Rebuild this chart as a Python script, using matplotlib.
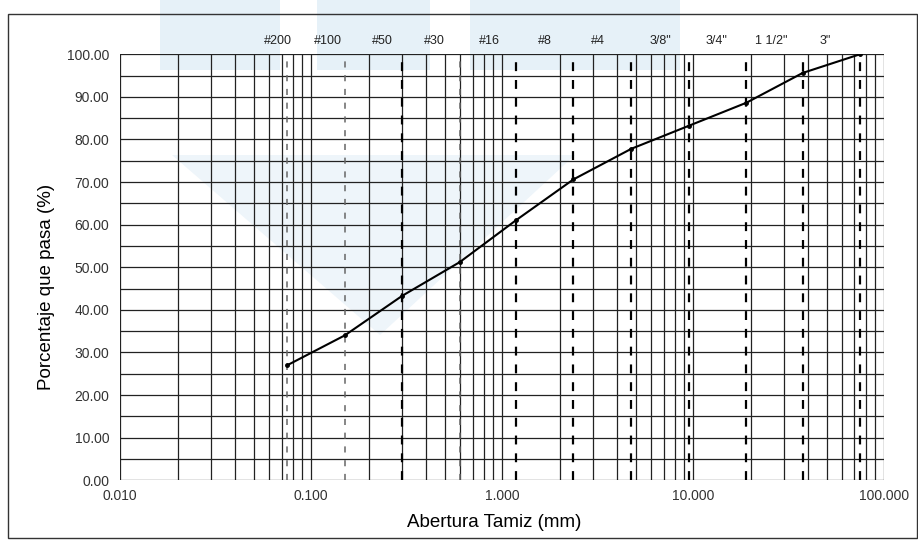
import matplotlib
matplotlib.use("Agg")
import matplotlib.pyplot as plt
from matplotlib.patches import Rectangle, Polygon
import numpy as np

plt.rcParams['font.family'] = ['Liberation Sans', 'DejaVu Sans']

# Data
sieve_names = ['#200', '#100', '#50', '#30', '#16', '#8', '#4', '3/8"', '3/4"', '1 1/2"', '3"']
sieve_mm = [0.075, 0.15, 0.3, 0.6, 1.18, 2.36, 4.75, 9.5, 19.0, 37.5, 75.0]
pct_pass = [27.0, 34.0, 43.3, 51.2, 61.0, 70.6, 77.8, 83.2, 88.6, 95.6, 100.0]
x_ticks = [0.01, 0.1, 1, 10, 100]
x_ticklabels = ['0.010', '0.100', '1.000', '10.000', '100.000']
y_ticks = [0, 10, 20, 30, 40, 50, 60, 70, 80, 90, 100]
y_ticklabels = ['%.2f' % v for v in y_ticks]
label_x_frac = [0.206, 0.272, 0.343, 0.411, 0.484, 0.556, 0.626, 0.707, 0.780, 0.852, 0.923]
light_sieves = [0.075, 0.15, 0.6]

W, H = 918, 542
fig = plt.figure(figsize=(W / 100, H / 100), dpi=100)
fig.patch.set_facecolor('white')

# faint watermark (figure pixel coords converted to fraction)
def px(x, y):
    return (x / W, 1 - y / H)
for x0, x1 in [(160, 280), (317, 430), (470, 680)]:
    fig.add_artist(Rectangle(px(x0, 70), (x1 - x0) / W, 70 / H,
                             transform=fig.transFigure, facecolor='#e6f1f8',
                             edgecolor='none', zorder=0))
fig.add_artist(Polygon([px(172, 155), px(575, 155), px(380, 335)], closed=True,
                       transform=fig.transFigure, facecolor='#eef5fa', edgecolor='none',
                       zorder=0))

fig.add_artist(Rectangle((0.009, 0.008), 0.99, 0.966, transform=fig.transFigure,
                         fill=False, edgecolor='#333333', linewidth=1.0))

ax = fig.add_axes([0.131, 0.114, 0.832, 0.786])
ax.set_facecolor('none')
ax.set_xscale('log')
ax.set_xlim(0.01, 100)
ax.set_ylim(0, 100)

# grid: vertical lines at every 1..9 in each decade
for dec in [0.01, 0.1, 1, 10]:
    for k in range(1, 10):
        ax.axvline(dec * k, color='#222222', linewidth=0.9, zorder=1)
ax.axvline(100, color='#222222', linewidth=0.9, zorder=1)
for yv in range(0, 101, 5):
    ax.axhline(yv, color='#222222', linewidth=0.9, zorder=1)

# sieve dashed lines
for s in sieve_mm:
    if s in light_sieves:
        ax.axvline(s, color='#666666', linewidth=1.1, linestyle=(0, (4, 5)), zorder=2)
    else:
        ax.axvline(s, color='black', linewidth=1.6, linestyle=(0, (4, 4)), zorder=2)

ax.plot(sieve_mm, pct_pass, color='black', linewidth=1.5, marker='o',
        markersize=2.5, zorder=3)

for name, fx in zip(sieve_names, label_x_frac):
    ax.text(fx, 1.03, name, transform=ax.transAxes, ha='center', va='center',
            fontsize=9, color='#222222')

ax.set_xticks(x_ticks)
ax.set_xticklabels(x_ticklabels, fontsize=10, color='#333333')
ax.xaxis.set_minor_locator(matplotlib.ticker.NullLocator())
ax.set_yticks(y_ticks)
ax.set_yticklabels(y_ticklabels, fontsize=10, color='#333333')
ax.tick_params(axis='y', length=0, pad=8)
ax.tick_params(axis='x', length=0, pad=6)
for sp in ax.spines.values():
    sp.set_visible(False)

ax.set_xlabel('Abertura Tamiz (mm)', fontsize=13.5)
ax.set_ylabel('Porcentaje que pasa (%)', fontsize=13.5)
ax.xaxis.set_label_coords(0.49, -0.10)
ax.yaxis.set_label_coords(-0.097, 0.453)
ax.xaxis.label.set_va('center')
ax.yaxis.label.set_va('center')

fig.savefig('out.png', dpi=100, facecolor='white')
